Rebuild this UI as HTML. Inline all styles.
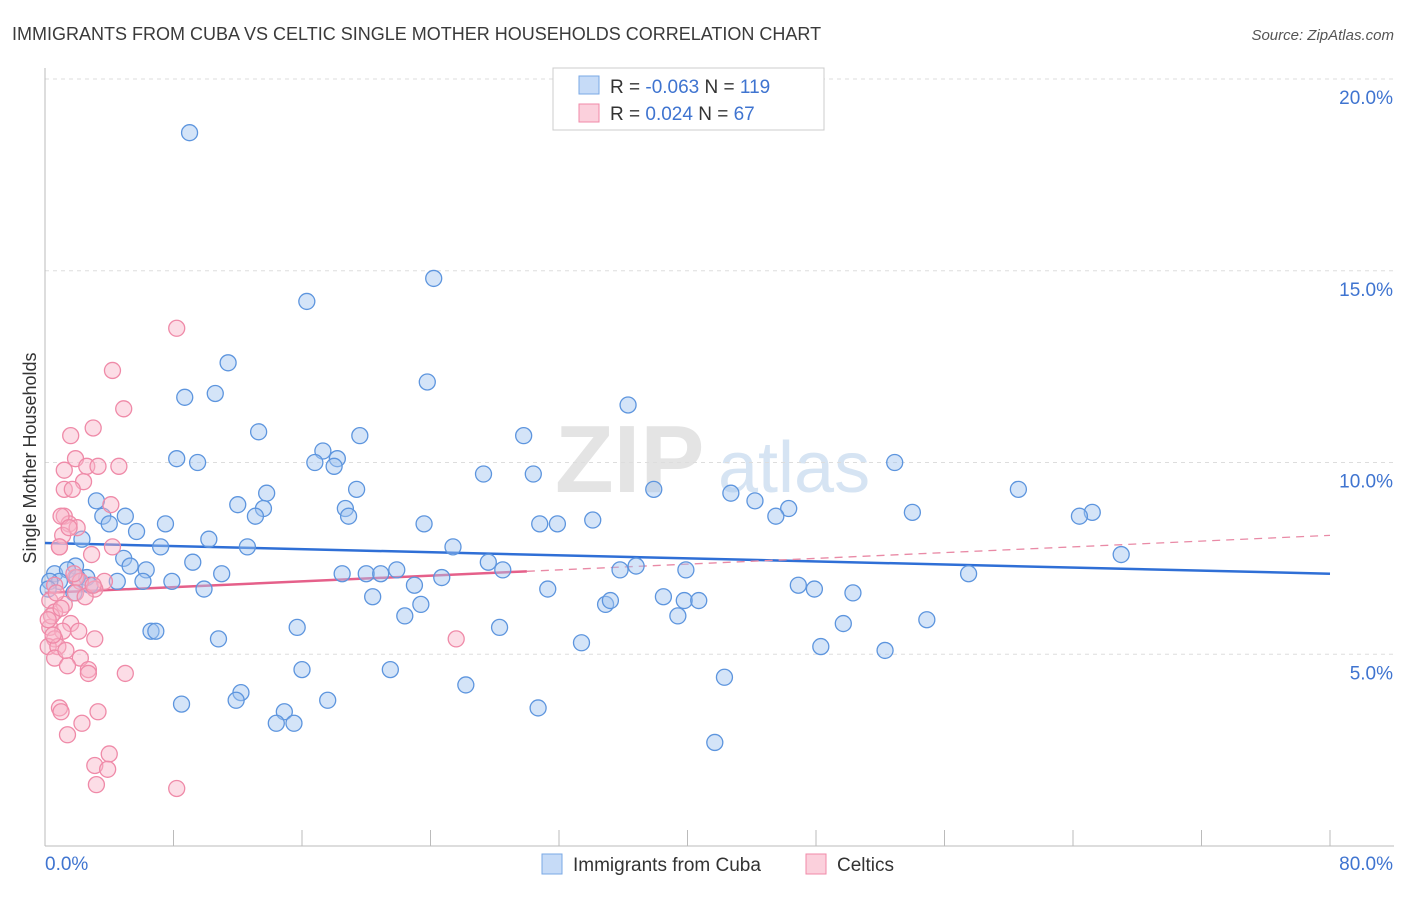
<!DOCTYPE html>
<html><head><meta charset="utf-8"><style>
body{margin:0;background:#fff;font-family:"Liberation Sans",sans-serif;}
svg text{font-family:"Liberation Sans",sans-serif;}
</style></head><body>
<svg id="chart" width="1406" height="892" xmlns="http://www.w3.org/2000/svg">
<text x="12" y="40" font-size="18" fill="#3a3a3a">IMMIGRANTS FROM CUBA VS CELTIC SINGLE MOTHER HOUSEHOLDS CORRELATION CHART</text>
<text x="1394" y="40" font-size="15" fill="#555" font-style="italic" text-anchor="end">Source: ZipAtlas.com</text>
<text x="36" y="458" font-size="18" fill="#333" text-anchor="middle" transform="rotate(-90 36 458)">Single Mother Households</text>
<g><text x="555" y="492" font-size="96" fill="#e4e4e4" font-family="Liberation Serif" font-weight="bold">ZIP</text><text x="718" y="492" font-size="72" fill="#d6e4f3">atlas</text></g>
<g id="grid"></g><g id="axes"></g>
<g id="lines"></g><g id="pts"></g>
<g>
<rect x="553" y="68" width="271" height="62" fill="#fff" stroke="#ccc"/>
<rect x="579" y="76" width="20" height="18" fill="#c6dbf7" stroke="#7aa8e6"/>
<rect x="579" y="104" width="20" height="18" fill="#fbd0dc" stroke="#f08aa8"/>
<text x="610" y="93" font-size="19" fill="#333">R = <tspan fill="#3f74d0">-0.063</tspan>   N = <tspan fill="#3f74d0">119</tspan></text>
<text x="610" y="120" font-size="19" fill="#333">R =  <tspan fill="#3f74d0"> 0.024</tspan>   N =  <tspan fill="#3f74d0"> 67</tspan></text>
</g>
<g>
<rect x="542" y="854" width="20" height="20" fill="#c6dbf7" stroke="#7aa8e6"/>
<text x="573" y="871" font-size="19" fill="#333">Immigrants from Cuba</text>
<rect x="806" y="854" width="20" height="20" fill="#fbd0dc" stroke="#f08aa8"/>
<text x="837" y="871" font-size="19" fill="#333">Celtics</text>
</g>
</svg>
<script>
const yTicks=[5,10,15,20];
const yTickLabels=["5.0%","10.0%","15.0%","20.0%"];
const xEndLabels=["0.0%","80.0%"];
const cubaX=[9.0,24.2,16.3,11.4,23.8,8.7,10.6,36.3,13.3,29.8,19.6,17.3,8.2,9.5,16.8,18.2,18.0,52.9,27.3,30.4,37.9,60.6,42.7,44.2,13.8,19.4,3.2,12.0,13.6,18.7,18.9,13.1,46.3,45.5,54.0,65.2,64.4,5.0,3.6,4.0,7.5,23.6,34.1,30.8,31.9,5.7,2.3,10.2,7.2,12.6,25.4,67.0,4.9,1.9,5.3,6.3,9.2,27.6,28.5,35.8,36.8,39.9,11.0,18.5,20.0,20.9,21.9,24.7,57.5,0.6,1.4,0.9,2.6,2.8,4.5,6.1,7.9,9.9,23.0,31.3,46.9,47.9,50.3,20.4,38.5,39.8,40.7,34.9,35.2,23.4,22.4,39.4,54.9,49.7,15.7,28.3,6.6,6.9,10.8,33.4,48.3,52.3,16.0,21.5,42.3,26.2,12.2,11.9,17.6,8.5,30.7,14.9,14.4,15.5,41.7,0.3,1.8,2.0,0.2];
const cubaY=[18.6,14.8,14.2,12.6,12.1,11.7,11.8,11.5,10.8,10.7,10.7,10.3,10.1,10.0,10.0,10.1,9.9,10.0,9.7,9.7,9.3,9.3,9.2,9.0,9.2,9.3,9.0,8.9,8.8,8.8,8.6,8.6,8.8,8.6,8.7,8.7,8.6,8.6,8.6,8.4,8.4,8.4,8.5,8.4,8.4,8.2,8.0,8.0,7.8,7.8,7.8,7.6,7.5,7.3,7.3,7.2,7.4,7.4,7.2,7.2,7.3,7.2,7.1,7.1,7.1,7.1,7.2,7.0,7.1,7.1,7.2,6.9,7.0,6.8,6.9,6.9,6.9,6.7,6.8,6.7,6.8,6.7,6.6,6.5,6.5,6.4,6.4,6.3,6.4,6.3,6.0,6.0,5.9,5.8,5.7,5.7,5.6,5.6,5.4,5.3,5.2,5.1,4.6,4.6,4.4,4.2,4.0,3.8,3.8,3.7,3.6,3.5,3.2,3.2,2.7,6.9,6.6,7.0,6.7];
const celtX=[8.2,4.2,4.9,3.0,1.6,1.9,2.6,3.3,4.6,1.2,2.4,1.2,1.7,4.1,1.2,1.5,1.1,0.9,4.2,2.9,1.0,2.0,0.9,1.9,0.6,2.2,3.7,1.9,3.1,0.3,1.2,0.6,1.6,0.3,1.1,2.1,3.1,0.6,0.2,0.8,2.2,0.6,1.4,2.7,5.0,2.7,25.6,0.9,1.0,3.3,2.3,1.4,4.0,3.1,3.9,3.2,8.2,1.5,0.4,2.5,1.0,0.5,1.8,0.7,3.0,0.2,1.3];
const celtY=[13.5,12.4,11.4,10.9,10.7,10.1,9.9,9.9,9.9,9.8,9.5,9.3,9.3,8.9,8.6,8.4,8.1,7.8,7.8,7.6,8.6,8.3,7.8,7.0,6.8,6.9,6.9,6.6,6.7,6.4,6.3,6.1,5.8,5.7,5.6,5.6,5.4,5.4,5.2,5.2,4.9,4.9,4.7,4.6,4.5,4.5,5.4,3.6,3.5,3.5,3.2,2.9,2.4,2.1,2.0,1.6,1.5,8.3,6.0,6.5,6.2,5.5,7.1,6.6,6.8,5.9,5.1];
const cubaTrend=[7.9,7.1];
const celtTrend=[6.6,8.1];
const X0=45,X1=1330,Y0=846,PPY=38.35;
const sx=v=>X0+(v/80)*(X1-X0);
const sy=v=>Y0-v*PPY;
const NS="http://www.w3.org/2000/svg";
function mk(p,t,a){const e=document.createElementNS(NS,t);for(const k in a)e.setAttribute(k,a[k]);p.appendChild(e);return e;}
const grid=document.getElementById('grid'),axes=document.getElementById('axes');
mk(grid,'line',{x1:X0,x2:1394,y1:sy(20),y2:sy(20),stroke:'#ddd','stroke-dasharray':'4,4'});
yTicks.forEach((t,i)=>{
 const l=mk(grid,'line',{x1:X0,x2:1394,y1:sy(t),y2:sy(t),stroke:'#ddd','stroke-dasharray':'4,4'});
 
 
 const tx=mk(axes,'text',{x:1393,y:sy(t)+25,'font-size':19,fill:'#3f74d0','text-anchor':'end'});
 tx.textContent=yTickLabels[i];
 
 
});
const ya=mk(axes,'line',{x1:X0,x2:X0,y1:68,y2:Y0,stroke:'#bbb'});


const xa=mk(axes,'line',{x1:X0,x2:1394,y1:Y0,y2:Y0,stroke:'#bbb'});


for(let i=1;i<=10;i++){const t=mk(axes,'line',{x1:sx(i*8),x2:sx(i*8),y1:830,y2:Y0,stroke:'#bbb'});
 
 }
const xl0=mk(axes,'text',{x:45,y:870,'font-size':19,fill:'#3f74d0'});xl0.textContent=xEndLabels[0];


const xl1=mk(axes,'text',{x:1393,y:870,'font-size':19,fill:'#3f74d0','text-anchor':'end'});xl1.textContent=xEndLabels[1];


const pts=document.getElementById('pts');
cubaX.forEach((x,i)=>{const c=mk(pts,'circle',{cx:sx(x),cy:sy(cubaY[i]),r:8,fill:'rgba(160,195,240,0.45)',stroke:'#5d95de','stroke-width':1.3});
 
 });
celtX.forEach((x,i)=>{const c=mk(pts,'circle',{cx:sx(x),cy:sy(celtY[i]),r:8,fill:'rgba(248,180,200,0.45)',stroke:'#ef8aa8','stroke-width':1.3});
 
 });
const lines=document.getElementById('lines');
const bl=mk(lines,'line',{x1:sx(0),x2:sx(80),y1:sy(cubaTrend[0]),y2:sy(cubaTrend[1]),stroke:'#2f6fd6','stroke-width':2.5});


const cAt=x=>celtTrend[0]+(celtTrend[1]-celtTrend[0])*x/80;
const pd=mk(lines,'line',{x1:sx(30),x2:sx(80),y1:sy(cAt(30)),y2:sy(cAt(80)),stroke:'#e98aa6','stroke-width':1.3,'stroke-dasharray':'8,6'});


const ps=mk(lines,'line',{x1:sx(0),x2:sx(30),y1:sy(cAt(0)),y2:sy(cAt(30)),stroke:'#e5608a','stroke-width':2.5});


</script>
</body></html>
